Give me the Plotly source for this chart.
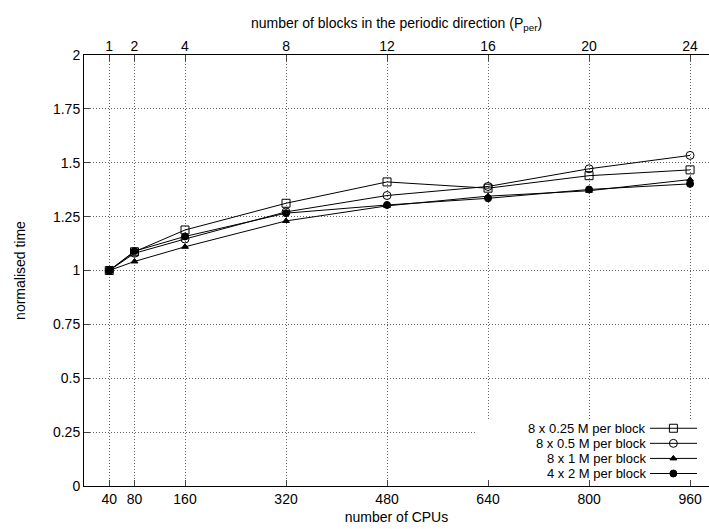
import plotly.graph_objects as go

cpus = [40, 80, 160, 320, 480, 640, 800, 960]
blocks = [1, 2, 4, 8, 12, 16, 20, 24]
s025 = [1.0, 1.087, 1.188, 1.312, 1.411, 1.382, 1.440, 1.467]
s05 = [1.0, 1.080, 1.146, 1.272, 1.348, 1.390, 1.472, 1.534]
s1 = [1.0, 1.042, 1.110, 1.230, 1.300, 1.345, 1.370, 1.422]
s2 = [1.0, 1.090, 1.158, 1.266, 1.304, 1.335, 1.376, 1.402]
names = ["8 x 0.25 M per block", "8 x 0.5 M per block", "8 x 1 M per block", "4 x 2 M per block"]
ytick_vals = [0, 0.25, 0.5, 0.75, 1, 1.25, 1.5, 1.75, 2]
ytick_text = ["0", "0.25", "0.5", "0.75", "1", "1.25", "1.5", "1.75", "2"]

FONT = "Liberation Sans, Arial, sans-serif"
FS = 14
LFS = 13
markers = [
    dict(symbol="square-open", size=8),
    dict(symbol="circle-open", size=8),
    dict(symbol="triangle-up", size=6),
    dict(symbol="circle", size=7),
]

fig = go.Figure()

# white key background (covers grid, like gnuplot key box)
fig.add_trace(go.Scatter(x=[0.6256, 1.0, 1.0, 0.6256, 0.6256], y=[0.0, 0.0, 0.153, 0.153, 0.0],
                         xaxis="x3", yaxis="y3", mode="lines", fill="toself",
                         fillcolor="white", line=dict(width=0, color="white"),
                         showlegend=False, hoverinfo="skip"))

for name, ys, m in zip(names, [s025, s05, s1, s2], markers):
    fig.add_trace(go.Scatter(
        x=cpus, y=ys, mode="lines+markers", name=name, showlegend=False,
        line=dict(color="black", width=1),
        marker=dict(color="black", line=dict(color="black", width=1), **m),
    ))
# invisible trace for top axis
fig.add_trace(go.Scatter(x=blocks, y=[None]*len(blocks), xaxis="x2", showlegend=False,
                         hoverinfo="skip", mode="markers"))

# custom key (text left of sample, like gnuplot)
leg_rows = [0.1340, 0.0990, 0.0640, 0.0290]
text_x = 0.9008
line_x0, line_x1, mark_x = 0.9056, 0.9808, 0.943
for name, m, ry in zip(names, markers, leg_rows):
    fig.add_annotation(x=text_x, y=ry, xref="x domain", yref="y domain", text=name,
                       showarrow=False, xanchor="right", yanchor="middle", borderpad=0,
                       font=dict(size=LFS, family=FONT, color="black"))
    fig.add_trace(go.Scatter(x=[line_x0, line_x1], y=[ry, ry], xaxis="x3", yaxis="y3",
                             mode="lines", line=dict(color="black", width=1),
                             showlegend=False, hoverinfo="skip", cliponaxis=False))
    fig.add_trace(go.Scatter(x=[mark_x], y=[ry], xaxis="x3", yaxis="y3", mode="markers",
                             showlegend=False, hoverinfo="skip", cliponaxis=False,
                             marker=dict(color="black", line=dict(color="black", width=1), **m)))

XMAX = 990
GRID = dict(showgrid=True, gridcolor="#666", griddash="1px,2px", gridwidth=1)
fig.update_layout(
    width=709, height=529,
    margin=dict(l=84, r=0, t=55, b=43),
    plot_bgcolor="white", paper_bgcolor="white",
    font=dict(family=FONT, size=FS, color="black"),
    showlegend=False,
    xaxis=dict(range=[0, XMAX], tickvals=cpus, ticks="inside", ticklen=6,
               showline=True, linecolor="black", linewidth=1, mirror=True,
               zeroline=False, **GRID,
               title=dict(text="number of CPUs", standoff=6, font=dict(size=FS))),
    xaxis2=dict(range=[0, XMAX / 40], overlaying="x", side="top", tickvals=blocks,
                ticks="inside", ticklen=6, showline=False, showgrid=False, zeroline=False,
                title=dict(text="number of blocks in the periodic direction (P<sub>per</sub>)",
                           standoff=6, font=dict(size=FS))),
    xaxis3=dict(range=[0, 1], overlaying="x", visible=False, fixedrange=True),
    yaxis3=dict(range=[0, 1], overlaying="y", visible=False, fixedrange=True),
    yaxis=dict(range=[0, 2], tickvals=ytick_vals, ticktext=ytick_text, ticks="inside",
               ticklen=6, showline=True, linecolor="black", linewidth=1, mirror=False,
               zeroline=False, **GRID,
               title=dict(text="normalised time", standoff=24, font=dict(size=FS))),
)
fig.write_html("out.html")
